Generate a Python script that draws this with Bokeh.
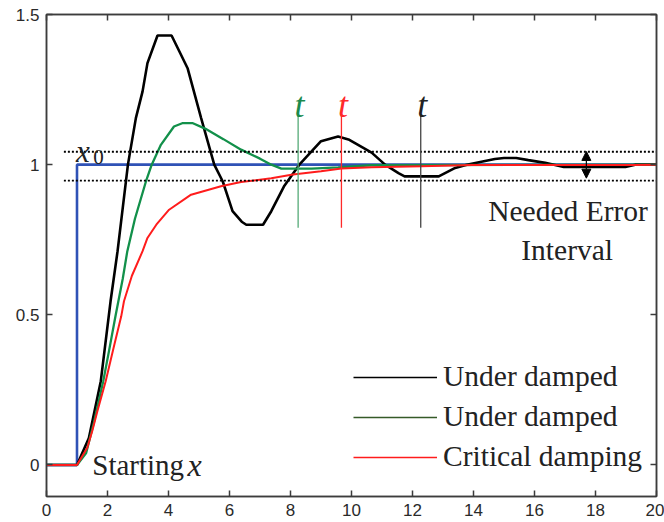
from bokeh.plotting import figure
from bokeh.models import (Range1d, FixedTicker, LinearAxis, Label, Legend, LegendItem,
                          Arrow, NormalHead, ColumnDataSource)
from bokeh.embed import file_html
from bokeh.resources import INLINE

# ---------------- data ----------------
x_ticks = [0, 2, 4, 6, 8, 10, 12, 14, 16, 18, 20]
y_ticks = [0, 0.5, 1, 1.5]
y_tick_labels = ["0", "0.5", "1", "1.5"]

step_x = [0, 1, 1, 20]
step_y = [0, 0, 1, 1]

under1_x = [0, 1, 1.39, 1.78, 2.1, 2.33, 2.67, 2.93, 3.15, 3.31, 3.64, 4.1, 4.41, 4.63,
            5.07, 5.5, 5.78, 6.1, 6.4, 6.55, 7.1, 7.37, 7.8, 8.29, 9.0, 9.56, 9.9, 10.66,
            11.1, 11.54, 11.74, 12.86, 13.4, 13.78, 14.7, 15.0, 15.4, 15.8, 16.35, 16.96,
            18.98, 19.3, 20]
under1_y = [0, 0, 0.09, 0.279, 0.545, 0.712, 1.0, 1.155, 1.244, 1.338, 1.43, 1.43, 1.366,
            1.32, 1.155, 1.0, 0.944, 0.845, 0.81, 0.80, 0.80, 0.845, 0.93, 1.0, 1.078,
            1.094, 1.084, 1.04, 1.0, 0.972, 0.961, 0.961, 0.989, 1.0, 1.019, 1.022, 1.022,
            1.015, 1.006, 0.992, 0.992, 1.0, 1.0]

under2_x = [0, 1, 1.3, 1.55, 1.86, 2.05, 2.27, 2.5, 2.65, 2.9, 3.26, 3.45, 3.75, 4.18,
            4.45, 4.8, 5.2, 5.8, 6.38, 7.0, 7.37, 7.7, 8.7, 9.56, 10.66, 20]
under2_y = [0, 0, 0.04, 0.14, 0.279, 0.38, 0.5, 0.62, 0.712, 0.82, 0.944, 1.0, 1.066,
            1.127, 1.138, 1.138, 1.12, 1.085, 1.05, 1.02, 1.0, 0.987, 0.987, 0.991, 0.998,
            1.0]

crit_x = [0, 1, 1.34, 1.5, 1.67, 1.94, 2.2, 2.45, 2.54, 2.8, 3.15, 3.31, 3.6, 4.02, 4.74,
          5.72, 6.38, 7.37, 8.08, 9.0, 9.67, 10.66, 12.3, 13.95, 19.3, 20]
crit_y = [0, 0, 0.058, 0.113, 0.18, 0.279, 0.39, 0.495, 0.545, 0.63, 0.712, 0.756, 0.80,
          0.85, 0.90, 0.928, 0.942, 0.955, 0.967, 0.978, 0.987, 0.991, 0.995, 0.999,
          0.999, 1.0]

# settling-time markers (x) and their vertical extent
settle_x = [8.25, 9.67, 12.27]
settle_colors = ["#55aa77", "#ff2a2a", "#444444"]
t_colors = ["#1b8a4c", "#ff2a2a", "#222222"]
marker_y0 = 0.79
marker_y1 = 1.166

band_hi = 1.043
band_lo = 0.947
band_x = [0.57, 20]

legend_labels = ["Under damped", "Under damped", "Critical damping"]

# ---------------- figure ----------------
p = figure(width=664, height=522, output_backend="svg", toolbar_location=None,
           x_range=Range1d(0, 20), y_range=Range1d(-0.105, 1.5),
           min_border_left=46, min_border_right=8, min_border_top=14, min_border_bottom=26)
p.background_fill_color = "white"
p.border_fill_color = "white"
p.outline_line_color = "#3c3c3c"
p.outline_line_width = 1.5
p.xgrid.visible = False
p.ygrid.visible = False

tick_font = "Liberation Sans"
for ax in (p.xaxis[0], p.yaxis[0]):
    ax.major_tick_in = 6
    ax.major_tick_out = 0
    ax.minor_tick_line_color = None
    ax.axis_line_color = "#3c3c3c"
    ax.axis_line_width = 1.5
    ax.major_tick_line_color = "#3c3c3c"
    ax.major_tick_line_width = 1.5
    ax.major_label_text_font = tick_font
    ax.major_label_text_font_size = "17px"
    ax.major_label_text_color = "#2a2a2a"
    ax.major_label_standoff = 7
p.xaxis[0].ticker = FixedTicker(ticks=x_ticks)
p.yaxis[0].ticker = FixedTicker(ticks=y_ticks)
p.yaxis[0].major_label_overrides = {t: s for t, s in zip(y_ticks, y_tick_labels)}

# mirrored ticks on top and right (MATLAB box), no labels
top = LinearAxis(ticker=FixedTicker(ticks=x_ticks))
right = LinearAxis(ticker=FixedTicker(ticks=y_ticks))
for ax in (top, right):
    ax.major_tick_in = 6
    ax.major_tick_out = 0
    ax.minor_tick_line_color = None
    ax.axis_line_color = "#3c3c3c"
    ax.axis_line_width = 1.5
    ax.major_tick_line_color = "#3c3c3c"
    ax.major_tick_line_width = 1.5
    ax.major_label_text_color = None
    ax.major_label_text_font_size = "1px"
    ax.major_label_standoff = 0
p.add_layout(top, "above")
p.add_layout(right, "right")

# ---------------- curves ----------------
p.line(step_x, step_y, line_color="#2f52b6", line_width=2.6)
p.line(under1_x, under1_y, line_color="black", line_width=2.6)
p.line(under2_x, under2_y, line_color="#12904a", line_width=2.3)
p.line(crit_x, crit_y, line_color="#ff1c1c", line_width=2.0)

# tolerance band
for yb in (band_hi, band_lo):
    p.line(band_x, [yb, yb], line_color="black", line_width=1.8, line_dash="2 2")

# settling markers
src = ColumnDataSource(dict(x=settle_x, y0=[marker_y0] * 3, y1=[marker_y1] * 3,
                            c=settle_colors))
p.segment(x0="x", y0="y0", x1="x", y1="y1", line_color="c", line_width=1.3, source=src)

serif = "Liberation Serif"
for xv, col in zip(settle_x, t_colors):
    p.add_layout(Label(x=xv, y=1.197, x_offset=1.5, text="t", text_font=serif,
                       text_font_style="italic", text_font_size="36px", text_color=col,
                       text_align="center", text_baseline="alphabetic"))

# x0 label
p.add_layout(Label(x=0.97, y=band_hi, text="x", text_font=serif, text_font_style="italic",
                   text_font_size="31px", text_color="#222222", text_baseline="alphabetic"))
p.add_layout(Label(x=1.53, y=1.026, text="0", text_font=serif,
                   text_font_size="21px", text_color="#222222", text_baseline="alphabetic"))

# Starting x
p.add_layout(Label(x=1.5, y=0.0, text="Starting", text_font=serif, text_font_size="29px",
                   text_color="#222222", text_baseline="alphabetic"))
p.add_layout(Label(x=4.62, y=0.0, text="x", text_font=serif, text_font_style="italic",
                   text_font_size="32px", text_color="#222222", text_baseline="alphabetic"))

# Needed error interval
p.add_layout(Label(x=17.1, y=0.845, text="Needed Error", text_font=serif,
                   text_font_size="29.5px", text_color="#222222", text_align="center",
                   text_baseline="alphabetic"))
p.add_layout(Label(x=17.07, y=0.717, text="Interval", text_font=serif,
                   text_font_size="29.5px", text_color="#222222", text_align="center",
                   text_baseline="alphabetic"))
p.add_layout(Arrow(x_start=17.7, y_start=0.955, x_end=17.7, y_end=1.044,
                   line_color="black", line_width=1.2,
                   start=NormalHead(size=9, fill_color="black", line_color="black"),
                   end=NormalHead(size=9, fill_color="black", line_color="black")))

# ---------------- legend (thin sample lines) ----------------
nan = float("nan")
l1 = p.line([nan], [nan], line_color="black", line_width=1.3)
l2 = p.line([nan], [nan], line_color="#355a28", line_width=1.3)
l3 = p.line([nan], [nan], line_color="#ff1c1c", line_width=1.3)
legend = Legend(items=[LegendItem(label=legend_labels[0], renderers=[l1]),
                       LegendItem(label=legend_labels[1], renderers=[l2]),
                       LegendItem(label=legend_labels[2], renderers=[l3])],
                location=(307, 23))
legend.label_text_font = serif
legend.label_text_font_size = "29.5px"
legend.label_text_color = "#222222"
legend.glyph_width = 84
legend.glyph_height = 32
legend.label_height = 32
legend.label_standoff = 6
legend.spacing = 7
legend.padding = 0
legend.margin = 0
legend.border_line_color = None
legend.background_fill_alpha = 0
p.add_layout(legend)

open("out.html", "w").write(file_html(p, INLINE))
